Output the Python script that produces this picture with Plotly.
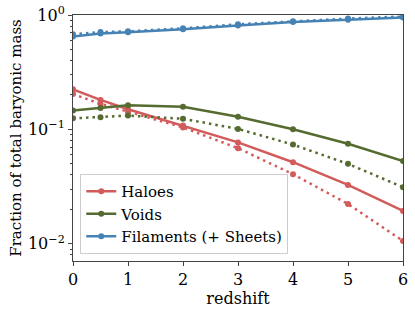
import plotly.graph_objects as go

redshift = [0, 0.5, 1, 2, 3, 4, 5, 6]
haloes = [0.224, 0.181, 0.150, 0.108, 0.077, 0.0517, 0.0327, 0.0194]
haloes_dot = [0.204, 0.167, 0.143, 0.104, 0.0686, 0.0406, 0.0223, 0.0106]
voids = [0.146, 0.154, 0.163, 0.158, 0.129, 0.1005, 0.075, 0.053]
voids_dot = [0.125, 0.128, 0.132, 0.124, 0.101, 0.0737, 0.050, 0.0313]
filaments = [0.65, 0.69, 0.705, 0.75, 0.81, 0.87, 0.91, 0.95]
filaments_dot = [0.68, 0.71, 0.72, 0.765, 0.83, 0.88, 0.93, 0.97]
minor_ticks = [k * 10.0 ** e for e in (-3, -2, -1) for k in range(2, 10)]

c_red = "#d25b5b"
c_green = "#556b2f"
c_blue = "#4682b4"
FAM = "'DejaVu Serif', serif"

fig = go.Figure()
for name, y, ydot, c in [("Haloes", haloes, haloes_dot, c_red),
                         ("Voids", voids, voids_dot, c_green),
                         ("Filaments (+ Sheets)", filaments, filaments_dot, c_blue)]:
    fig.add_trace(go.Scatter(x=redshift, y=y, mode="lines+markers", name=name,
                             line=dict(color=c, width=2.5), marker=dict(color=c, size=6)))
    fig.add_trace(go.Scatter(x=redshift, y=ydot, mode="lines+markers", showlegend=False,
                             line=dict(color=c, width=2.5, dash="2.5px,4px"), marker=dict(color=c, size=6)))

fig.update_layout(
    width=415, height=311,
    margin=dict(l=73, r=12, t=15, b=50),
    paper_bgcolor="white", plot_bgcolor="white",
    font=dict(family=FAM, size=15, color="black"),
    showlegend=True,
    legend=dict(x=0.022, y=0.028, xanchor="left", yanchor="bottom",
                bgcolor="rgba(255,255,255,0.8)", bordercolor="#cccccc", borderwidth=1,
                font=dict(family=FAM, size=15, color="black"), tracegroupgap=0, itemwidth=30),
)
fig.update_xaxes(range=[0, 6], tickvals=[0, 1, 2, 3, 4, 5, 6], ticks="outside", ticklen=4,
                 showline=True, linecolor="#444", mirror=True, showgrid=False, zeroline=False,
                 automargin=False,
                 title=dict(text="redshift", font=dict(family=FAM, size=16, color="black"), standoff=2),
                 tickfont=dict(family=FAM, size=16, color="black"))
fig.update_yaxes(type="log", range=[-2.15, 0], tickvals=[0.01, 0.1, 1],
                 ticktext=["10<sup>−2</sup>", "10<sup>−1</sup>", "10<sup>0</sup>"],
                 ticks="outside", ticklen=4, showline=True, linecolor="#444", mirror=True,
                 showgrid=False, zeroline=False, automargin=False,
                 minor=dict(ticks="outside", ticklen=2, tickcolor="#444", showgrid=False,
                            tickvals=minor_ticks),
                 title=dict(text="Fraction of total baryonic mass", font=dict(family=FAM, size=15, color="black"), standoff=2),
                 tickfont=dict(family=FAM, size=16, color="black"))

fig.write_html("out.html", post_script="document.body.style.margin='0';",
               config={"displayModeBar": False})
